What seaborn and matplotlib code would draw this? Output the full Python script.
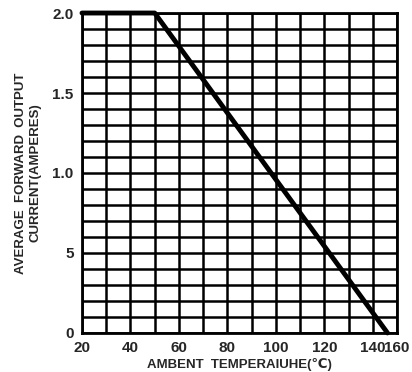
import numpy as np
import pandas as pd
import matplotlib
matplotlib.use('Agg')
import matplotlib.pyplot as plt
import seaborn as sns

# derating curve
temp = [20, 50, 146]
current = [2.0, 2.0, 0.0]

# tick labels as printed on the original (the last one sits on the right border)
x_ticks = [20, 40, 60, 80, 100, 120, 140, 150]
x_labels = ['20', '40', '60', '80', '100', '120', '140', '160']
y_ticks = [0, 0.5, 1.0, 1.5, 2.0]
y_labels = ['0', '5', '1.0', '1.5', '2.0']

df = pd.DataFrame({'temp': temp, 'current': current})

sns.set_style('white')
plt.rcParams['font.family'] = ['Liberation Sans', 'DejaVu Sans']

fig = plt.figure(figsize=(4.12, 3.72), dpi=100)
ax = fig.add_axes([0.199, 0.105, 0.765, 0.86])

sns.lineplot(data=df, x='temp', y='current', color='black', linewidth=3.5,
             ax=ax, clip_on=False, zorder=5)

ax.set_xlim(20, 150)
ax.set_ylim(0, 2.0)
ax.set_xticks(x_ticks)
ax.set_xticklabels(x_labels, fontsize=11, fontweight='bold')
ax.set_yticks(y_ticks)
ax.set_yticklabels(y_labels, fontsize=11, fontweight='bold')
ax.set_xticks(np.arange(20, 151, 10), minor=True)
ax.set_yticks(np.arange(0, 2.01, 0.1), minor=True)
ax.tick_params(which='both', length=0, pad=6)
ax.grid(which='both', color='black', linewidth=1.8)
for s in ax.spines.values():
    s.set_color('black')
    s.set_linewidth(2)

ax.set_xlabel('AMBENT  TEMPERAIUHE(℃)', fontsize=9.5, fontweight='bold', labelpad=2)
ax.set_ylabel('AVERAGE  FORWARD  OUTPUT\nCURRENT(AMPERES)', fontsize=9.5,
              fontweight='bold', labelpad=8)

fig.savefig('out.png', dpi=100)
